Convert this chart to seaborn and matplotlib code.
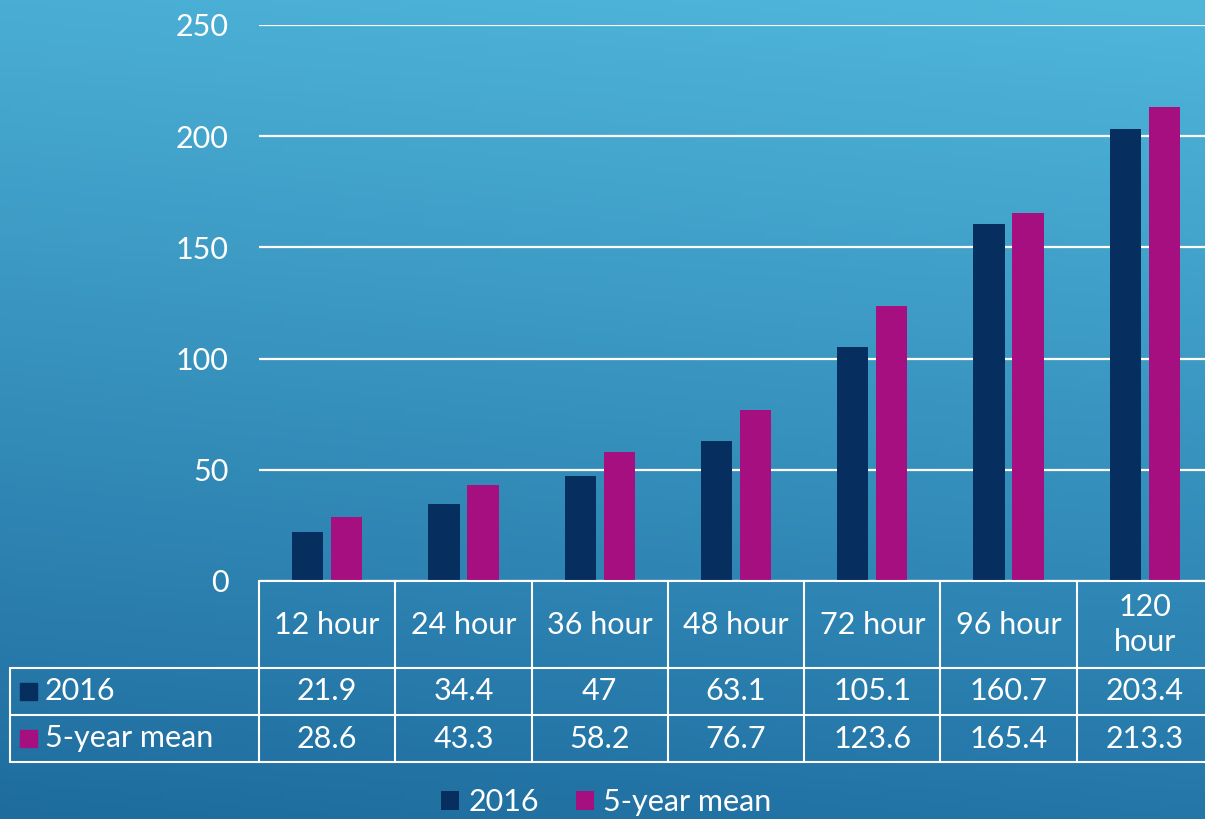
import textwrap
import numpy as np
import pandas as pd
import matplotlib
matplotlib.use("Agg")
import matplotlib.pyplot as plt
import matplotlib.transforms as mtransforms
from matplotlib.patches import Patch, Rectangle
import seaborn as sns

# data
periods = ["12 hour", "24 hour", "36 hour", "48 hour", "72 hour", "96 hour", "120 hour"]
series_names = ["2016", "5-year mean"]
vals_2016 = [21.9, 34.4, 47, 63.1, 105.1, 160.7, 203.4]
vals_mean = [28.6, 43.3, 58.2, 76.7, 123.6, 165.4, 213.3]
yticks = [0, 50, 100, 150, 200, 250]

navy = "#062e5f"
magenta = "#a50f80"
colors = [navy, magenta]

df = pd.DataFrame({
    "period": periods * 2,
    "value": vals_2016 + vals_mean,
    "series": [series_names[0]] * len(periods) + [series_names[1]] * len(periods),
})

sns.set_theme(style="white")
plt.rcParams["font.family"] = ["Lato", "DejaVu Sans"]

W, H = 1205, 819
fig = plt.figure(figsize=(W / 100, H / 100), dpi=100)

# gradient background
bg = fig.add_axes([0, 0, 1, 1], zorder=-10)
tl, tr = np.array([74, 174, 212]), np.array([80, 183, 219])
bl, br = np.array([30, 108, 158]), np.array([36, 118, 168])
yy, xx = np.mgrid[0:1:200j, 0:1:200j]
grad = ((1 - yy)[..., None] * ((1 - xx)[..., None] * tl + xx[..., None] * tr)
        + yy[..., None] * ((1 - xx)[..., None] * bl + xx[..., None] * br)) / 255
bg.imshow(grad, aspect="auto", extent=[0, 1, 0, 1], origin="upper")
bg.axis("off")

def fx(px):
    return px / W

def fy(py):
    return 1 - py / H

ax_left, ax_right, ax_top, ax_bot = 259, 1213, 25, 581
ax = fig.add_axes([fx(ax_left), fy(ax_bot), fx(ax_right - ax_left), (ax_bot - ax_top) / H])
ax.patch.set_alpha(0)

sns.barplot(data=df, x="period", y="value", hue="series", palette=colors,
            width=0.572, gap=0.2, saturation=1, ax=ax, legend=False,
            edgecolor="none")

fs = 22
ax.set_ylim(0, 250)
ax.set_xlim(-0.5, len(periods) - 0.5)
ax.set_yticks(yticks)
ax.set_yticklabels([str(t) for t in yticks], color="white", fontsize=fs)
ax.tick_params(axis="y", length=0, pad=22)
ax.set_xticks([])
ax.set_xlabel("")
ax.set_ylabel("")
for s in ax.spines.values():
    s.set_visible(False)
ax.yaxis.grid(True, color="white", linewidth=1.6)
ax.set_axisbelow(True)

# data table
row_y = [581, 668, 715, 762]
trans = mtransforms.blended_transform_factory(ax.transData, fig.transFigure)
lw = 1.5
lkw = dict(color="white", linewidth=lw, clip_on=False)

# horizontal lines
ax.plot([-0.5, len(periods) + 0.5], [fy(row_y[0])] * 2, transform=trans, **lkw)
for r in row_y[1:]:
    fig.add_artist(plt.Line2D([fx(10), 1.01], [fy(r)] * 2, transform=fig.transFigure, **lkw))
# vertical lines
for i in range(len(periods) + 1):
    ax.plot([i - 0.5] * 2, [fy(row_y[0]), fy(row_y[-1])], transform=trans, **lkw)
fig.add_artist(plt.Line2D([fx(10)] * 2, [fy(row_y[1]), fy(row_y[-1])], transform=fig.transFigure, **lkw))

for i, p in enumerate(periods):
    ax.text(i, fy((row_y[0] + row_y[1]) / 2), textwrap.fill(p, 7), transform=trans,
            ha="center", va="center", color="white", fontsize=fs, linespacing=1.3)
for row, vals in enumerate([vals_2016, vals_mean]):
    yc = fy((row_y[row + 1] + row_y[row + 2]) / 2)
    for i, v in enumerate(vals):
        ax.text(i, yc, f"{v:g}", transform=trans, ha="center", va="center",
                color="white", fontsize=fs)
    fig.add_artist(Rectangle((fx(20), yc - 8.5 / H), 17 / W, 17 / H,
                             transform=fig.transFigure, color=colors[row]))
    fig.text(fx(45), yc, series_names[row], ha="left", va="center",
             color="white", fontsize=fs)

# legend
handles = [Patch(facecolor=c, edgecolor="none", label=n) for c, n in zip(colors, series_names)]
fig.legend(handles=handles, loc="center", bbox_to_anchor=(fx(606), fy(802)), ncol=2,
           frameon=False, fontsize=fs, labelcolor="white", handlelength=0.6,
           handleheight=0.6, handletextpad=0.3, columnspacing=1.2)

fig.savefig("out.png", dpi=100)
